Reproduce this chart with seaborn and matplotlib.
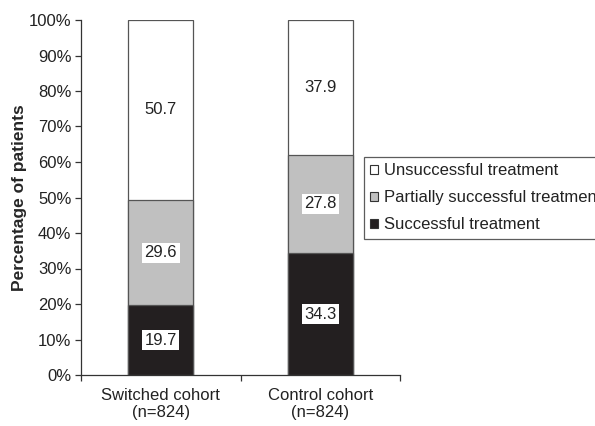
import matplotlib
matplotlib.use("Agg")
import matplotlib.pyplot as plt
import seaborn as sns
import pandas as pd
import numpy as np
from matplotlib.patches import Patch
from matplotlib.ticker import PercentFormatter

categories = ["Switched cohort\n(n=824)", "Control cohort\n(n=824)"]
successful = [19.7, 34.3]
partial = [29.6, 27.8]
unsuccessful = [50.7, 37.9]
series_names = ["Unsuccessful treatment", "Partially successful treatment", "Successful treatment"]
colors = {"Unsuccessful treatment": "#ffffff",
          "Partially successful treatment": "#c0c0c0",
          "Successful treatment": "#231f20"}

sns.set_theme(style="white")
plt.rcParams['font.family'] = ['Liberation Sans', 'DejaVu Sans']

fig = plt.figure(figsize=(5.95, 4.26), dpi=100)
ax = fig.add_axes([81/595, 1-375/426, (400-81)/595, (375-20)/426])

cum1 = np.array(successful)
cum2 = cum1 + np.array(partial)
cum3 = cum2 + np.array(unsuccessful)

df = pd.DataFrame({"cat": categories, "top": cum3, "mid": cum2, "low": cum1})
for col, name in [("top", "Unsuccessful treatment"), ("mid", "Partially successful treatment"), ("low", "Successful treatment")]:
    sns.barplot(data=df, x="cat", y=col, color=colors[name], width=0.41,
                edgecolor="#555555", linewidth=0.9, saturation=1, ax=ax, errorbar=None)

# value labels centered in segments
bottoms = [np.zeros(2), cum1, cum2]
for vals, bot in zip([successful, partial, unsuccessful], bottoms):
    for i, v in enumerate(vals):
        ax.text(i, bot[i] + v/2, f"{v:.1f}", ha="center", va="center", fontsize=12,
                color="#222222",
                bbox=dict(boxstyle="square,pad=0.15", fc="white", ec="none"))

ax.set_xlim(-0.5, 1.5)
ax.set_ylim(0, 100)
ax.set_yticks(np.arange(0, 101, 10))
ax.yaxis.set_major_formatter(PercentFormatter(decimals=0))
ax.set_xlabel("")
ax.set_ylabel("Percentage of patients", fontsize=12.5, fontweight="bold", labelpad=1)
ax.set_xticks([0, 1])
ax.set_xticklabels(categories, fontsize=12, color="#222222")
ax.set_xticks([-0.5, 0.5, 1.5], minor=True)
ax.tick_params(axis="x", which="major", length=0, pad=9)
ax.tick_params(axis="x", which="minor", length=4, width=0.9, color="#333333", direction="out", bottom=True)
ax.tick_params(axis="y", length=4, width=0.9, color="#333333", direction="out", left=True, labelsize=12, labelcolor="#222222", pad=3)
for s in ["top", "right"]:
    ax.spines[s].set_visible(False)
for s in ["left", "bottom"]:
    ax.spines[s].set_color("#333333")
    ax.spines[s].set_linewidth(0.9)

handles = [Patch(facecolor=colors[n], edgecolor="#333333", linewidth=0.8, label=n) for n in series_names]
leg = fig.legend(handles=handles, loc="upper left", bbox_to_anchor=(364/595, 1-157/426),
                 bbox_transform=fig.transFigure, frameon=True, fancybox=False,
                 fontsize=12, handlelength=0.45, handleheight=0.45, handletextpad=0.4,
                 borderpad=0.38, labelspacing=0.72, borderaxespad=0)
leg.get_frame().set_edgecolor("#333333")
leg.get_frame().set_linewidth(0.9)
for t in leg.get_texts():
    t.set_color("#222222")

fig.savefig("out.png", dpi=100)
